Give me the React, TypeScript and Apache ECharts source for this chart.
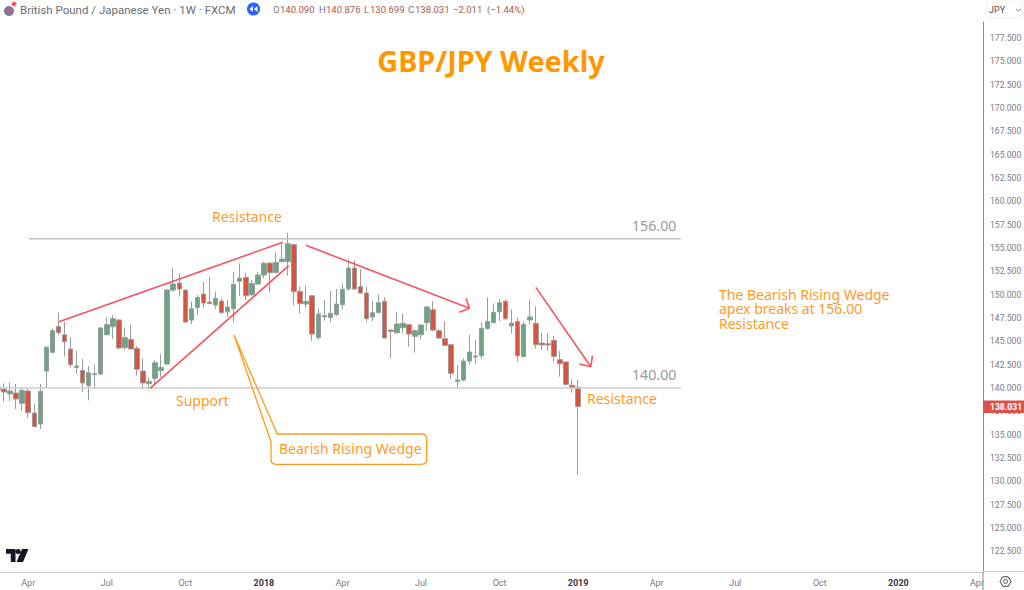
import React, { useEffect, useRef } from "react";
import * as echarts from "echarts";

const opens = [139.79,139.89,139.36,139.46,138.36,139.68,137.32,136.14,141.82,143.82,146.61,145.71,144.18,142.21,141.89,140.25,141.43,141.5,145.71,146.57,147.29,144.32,145.21,144.25,141.82,140.46,141.04,141.86,142.57,150.5,151.25,150.5,147.29,148.64,150.07,149.21,148.89,149.32,148.18,148.5,151.43,151.86,150,151.14,152.11,153.39,152.39,153.54,153.54,155.36,150.36,149,149.89,145.39,147.61,147.54,147.89,148.93,150.61,152.86,150.86,150.18,147.61,148.07,149.29,146.21,145.93,146.46,146.79,145.54,145.71,147,148.39,146.14,145.29,144.64,140.71,140.86,142.89,143.43,143.46,146.36,147,148.18,149.29,146.64,147.14,143.36,147.29,146.93,144.82,144.75,145.11,143.04,142.79,140.29,140.09];
const closes = [140.14,139.57,139.68,138.82,139.75,137.36,135.86,139.64,144.36,146.14,145.93,144.96,142.5,142.36,140.54,141.64,141.54,146.43,146.79,147.43,144.29,145.39,144.18,142,140.54,140.71,142.71,142.21,150.5,151.14,150.61,147.07,148.5,149.71,149.11,149.04,149.61,148.07,148.68,151.11,151.79,149.89,151.21,152.11,153.36,152.36,153.46,153.82,155.46,150.32,149.04,149.29,145.79,147.93,147.75,148,149,150.57,152.86,150.61,150.18,147.43,148.07,149.14,145.36,146.07,146.86,146.93,145.79,146.14,146.75,148.68,146.21,145.36,144.57,141.57,140.86,142.89,143.86,143.32,146.39,147.14,148.11,149.14,147.43,146.96,143.46,146.82,147.61,144.64,144.61,144.61,143.39,142.61,140.39,140.04,138.03];
const lows = [139.64,138.5,138.61,137.75,137.54,136.79,135.79,135.61,140,143.71,145.68,143.36,142.21,141.5,139.57,138.68,139.93,141.39,145.64,145.29,144.14,144.07,144.14,141.32,139.86,139.86,140.3,141.18,142.5,150.32,149.79,147,146.86,147.82,148.64,149,148.46,148,147.57,147.04,149.89,149.43,149.79,151.04,151.75,150.25,152.29,153.46,152.04,148.89,148,148.61,145.04,145.14,147.21,147.07,147.71,148.43,150.43,150.57,150.11,147.07,147.18,148,145.29,143.21,145.82,145.86,144.43,143.79,145.21,146.14,146.07,145.29,144.5,140.96,140.07,140.71,142.57,142.61,143.14,146.29,146.93,147.18,147.29,145.86,142.82,143.29,146.82,144.25,144.07,144,142.82,141.21,140.29,139.5,130.7];
const highs = [140.43,140.5,140.61,140.43,140.11,139.96,138.29,140.43,144.5,146.39,148.11,147.07,145.46,143.96,143.11,142.36,142.54,146.54,147.57,147.79,147.36,146.5,146.82,144.5,143.18,141.07,143,143.64,150.64,152.89,152.29,150.57,149.25,149.96,151.39,151.93,150.32,149.61,149.43,152.46,153.36,152.36,151.57,152.46,153.54,153.54,154.54,155.5,156.64,155.5,150.86,150.93,149.96,148.54,149.43,150.39,150.61,151.21,153.82,153.71,152.75,150.86,149.32,150.04,149.71,146.29,148.11,148,146.86,146.29,146.86,148.82,149.32,146.29,147.18,144.71,142.46,143.18,145.71,145.14,147.04,149.71,149.07,149.5,149.5,148.43,147.57,147.11,149.5,148.75,145.96,145.86,145.57,143.96,142.89,140.93,140.88];

const weekLabels = ["2017-02-27"];
const weekCount = 164;
const priceTicks = [122.5,125,127.5,130,132.5,135,137.5,140,142.5,145,147.5,150,152.5,155,157.5,160,162.5,165,167.5,170,172.5,175,177.5];
const timeTickWeeks = [5,18,31,44,57,70,83,96,109,122,136,149,162];
const timeTickTexts = ["Apr","Jul","Oct","2018","Apr","Jul","Oct","2019","Apr","Jul","Oct","2020","Apr"];

const level156 = [[5.13,156],[113,156]];
const level140 = [[0.33,140],[113,140]];
const upperTrend = [[10.1,147.11],[47.12,155.62]];
const lowerTrend = [[25.16,139.97],[48.12,153.11]];
const arrowOne = [[50.98,155.29],[78,148.54]];
const arrowOneHead = [[77.46,149.61],[78,148.54],[76.35,148.11]];
const arrowTwo = [[89,150.79],[98.1,142.28]];
const arrowTwoHead = [[98.37,143.46],[98.1,142.28],[96.2,142.57]];

const ORANGE = "#ff9a1f";
const RED = "#f7525f";
const FONT = "Noto Sans";

echarts.graphic.registerShape("tvlogo", echarts.graphic.extendPath(
  "M0 0H9.5V13H4.8V4.8H0Z M14.6 2.5a2.5 2.5 0 1 1-5 0 2.5 2.5 0 1 1 5 0Z M16 0H22.5L17 13H10.5Z", {}));
echarts.graphic.registerShape("callout", echarts.graphic.extendPath(
  "M234 335L277.3 434H421.7Q426.7 434 426.7 439V459.3Q426.7 464.3 421.7 464.3H276Q271 464.3 271 459.3V441.7Z", {}));

function lineSeries(data: number[][], color: string, width: number) {
  return {
    type: "line", xAxisIndex: 1, yAxisIndex: 0, data, showSymbol: false, symbol: "none",
    lineStyle: { color, width }, itemStyle: { color }, silent: true, z: 5, clip: false,
  };
}

function txt(x: number, y: number, text: string, fill: string, fontSize: number, extra: any = {}) {
  return {
    type: "text", x, y, z: 100,
    style: { text, fill, fontSize, fontFamily: FONT, verticalAlign: "middle", ...extra },
  };
}

export default function App() {
  const ref = useRef<HTMLDivElement>(null);
  useEffect(() => {
    document.body.style.margin = "0";
    const chart = echarts.init(ref.current!, null, { renderer: "svg" });
    const start = Date.parse(weekLabels[0]);
    const categories = Array.from({ length: weekCount }, (_, i) =>
      new Date(start + i * 7 * 86400000).toISOString().slice(0, 10));
    const tickMap = new Map(timeTickWeeks.map((w, i) => [categories[w], timeTickTexts[i]]));
    const candles = opens.map((o, i) => [o, closes[i], lows[i], highs[i]]);
    const head = { fontFamily: "Roboto" };
    chart.setOption({
      animation: false,
      backgroundColor: "#ffffff",
      grid: { left: -2, top: 22, width: 985, height: 550, containLabel: false, outerBoundsMode: "none" },
      xAxis: [
        {
          type: "category", data: categories, boundaryGap: false,
          axisLine: { show: true, lineStyle: { color: "#c8c8c8", width: 1 } },
          axisTick: { show: false }, splitLine: { show: false },
          axisLabel: {
            interval: (_: number, v: string) => tickMap.has(v),
            formatter: (v: string) => {
              const t = tickMap.get(v) ?? "";
              return /^\d+$/.test(t) ? `{b|${t}}` : t;
            },
            color: "#787b86", fontSize: 9, fontFamily: "Roboto", margin: 6,
            rich: { b: { fontWeight: "bold", fontSize: 9, color: "#333740", fontFamily: "Roboto" } },
          },
        },
        { type: "value", min: 0, max: 163, show: false },
      ],
      yAxis: {
        type: "value", position: "right", min: 120.28, max: 179.23, scale: true,
        axisLine: { show: true, onZero: false, lineStyle: { color: "#8a8a8a", width: 1 } },
        axisTick: { show: false }, splitLine: { show: false },
        axisLabel: {
          customValues: priceTicks,
          formatter: (v: number) => v.toFixed(3),
          color: "#787b86", fontSize: 8.6, fontFamily: "Roboto", margin: 7,
        },
      },
      series: [
        lineSeries(level156, "#c2c2c2", 1.5),
        lineSeries(level140, "#cccccc", 1.5),
        {
          type: "candlestick", xAxisIndex: 0, yAxisIndex: 0, data: candles, barWidth: 5, z: 3,
          itemStyle: { color: "#6ba583", color0: "#d75442", borderColor: "#979f9a", borderColor0: "#a39a98", borderWidth: 1 },
        },
        lineSeries(upperTrend, RED, 1.6),
        lineSeries(lowerTrend, RED, 1.6),
        lineSeries(arrowOne, RED, 1.6),
        lineSeries(arrowOneHead, RED, 1.6),
        lineSeries(arrowTwo, RED, 1.6),
        lineSeries(arrowTwoHead, RED, 1.6),
      ],
      graphic: [
        { type: "line", z: 100, shape: { x1: 983, y1: 572, x2: 983, y2: 590 }, style: { stroke: "#8a8a8a", lineWidth: 1 } },
        { type: "line", z: 100, shape: { x1: 983, y1: 571.5, x2: 1024, y2: 571.5 }, style: { stroke: "#c8c8c8", lineWidth: 1 } },
        { type: "rect", z: 100, shape: { x: 983, y: 400.5, width: 41, height: 12.5 }, style: { fill: "#d9534a" } },
        txt(990, 407, "138.031", "#ffffff", 8.6, { fontFamily: "Roboto", fontWeight: "bold" }),
        { type: "rect", z: 100, shape: { x: 986.5, y: 0, width: 36, height: 18, r: 2 }, style: { fill: "#fff", stroke: "#eeeeee", lineWidth: 1 } },
        txt(989, 10, "JPY", "#4a4a55", 9, head),
        { type: "polyline", z: 100, shape: { points: [[1016, 9], [1018.5, 11], [1021, 9]] }, style: { stroke: "#888", lineWidth: 1, fill: "none" } },
        // header
        { type: "circle", z: 100, shape: { cx: 9, cy: 11, r: 5 }, style: { fill: "#6b7aa8" } },
        { type: "line", z: 101, shape: { x1: 5, y1: 11, x2: 13, y2: 11 }, style: { stroke: "#d9606a", lineWidth: 1.2 } },
        { type: "line", z: 101, shape: { x1: 9, y1: 7, x2: 9, y2: 15 }, style: { stroke: "#d9606a", lineWidth: 1.2 } },
        { type: "circle", z: 101, shape: { cx: 14, cy: 4, r: 2.5 }, style: { fill: "#f0505a", stroke: "#f4d0d0", lineWidth: 1 } },
        txt(20, 9.5, "British Pound / Japanese Yen · 1W · FXCM", "#6a6d78", 11.5, head),
        { type: "circle", z: 100, shape: { cx: 253.5, cy: 9, r: 6.5 }, style: { fill: "#2962ff" } },
        { type: "polygon", z: 101, shape: { points: [[253, 6], [253, 12], [249.5, 9]] }, style: { fill: "#fff" } },
        { type: "polygon", z: 101, shape: { points: [[257.5, 6], [257.5, 12], [254, 9]] }, style: { fill: "#fff" } },
        txt(273, 9.5, "O", "#787b86", 9.5, head),
        txt(280, 9.5, "140.090", "#a8584f", 9.5, head),
        txt(319, 9.5, "H", "#787b86", 9.5, head),
        txt(326, 9.5, "140.876", "#a8584f", 9.5, head),
        txt(364, 9.5, "L", "#787b86", 9.5, head),
        txt(370, 9.5, "130.699", "#a8584f", 9.5, head),
        txt(408, 9.5, "C", "#787b86", 9.5, head),
        txt(415, 9.5, "138.031", "#a8584f", 9.5, head),
        txt(453, 9.5, "−2.011", "#a8584f", 9.5, head),
        txt(487, 9.5, "(−1.44%)", "#a8584f", 9.5, head),
        // title and annotations
        txt(491, 60, "GBP/JPY Weekly", "#ff9800", 28.8, { fontWeight: "bold", align: "center" }),
        txt(212, 216, "Resistance", ORANGE, 14),
        txt(176, 400, "Support", ORANGE, 14),
        txt(587, 398, "Resistance", ORANGE, 14),
        txt(632, 225.5, "156.00", "#9a9a9a", 14.2),
        txt(632, 374.5, "140.00", "#9a9a9a", 14.2),
        { type: "text", x: 719, y: 287, z: 100, style: {
          text: "The Bearish Rising Wedge\napex breaks at 156.00\nResistance",
          fill: ORANGE, fontSize: 14, fontFamily: FONT, lineHeight: 14.5,
        } },
        { type: "callout", z: 100, x: 0, y: 0, style: { fill: "none", stroke: ORANGE, lineWidth: 1.3 } },
        txt(279, 448, "Bearish Rising Wedge", ORANGE, 14),
        { type: "tvlogo", z: 100, x: 6, y: 549, style: { fill: "#131722" } },
        // settings icon
        { type: "polygon", z: 100, shape: { points: [[1000, 581.5], [1002.8, 576.8], [1008.2, 576.8], [1011, 581.5], [1008.2, 586.2], [1002.8, 586.2]] }, style: { fill: "none", stroke: "#3a3d46", lineWidth: 1 } },
        { type: "circle", z: 100, shape: { cx: 1005.5, cy: 581.5, r: 2 }, style: { fill: "none", stroke: "#3a3d46", lineWidth: 1 } },
      ],
    });
    return () => chart.dispose();
  }, []);
  return <div ref={ref} style={{ position: "fixed", left: 0, top: 0, width: 1024, height: 590 }} />;
}
